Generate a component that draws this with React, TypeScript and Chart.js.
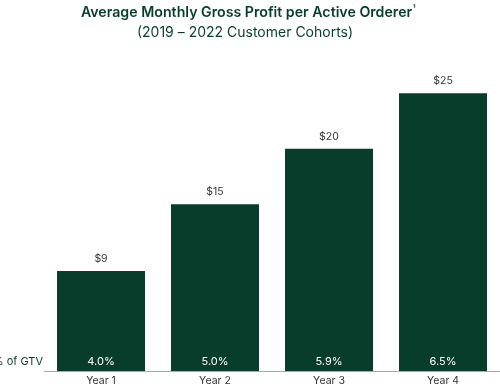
import React, { useEffect, useRef } from "react";
import { Chart, registerables } from "chart.js";

Chart.register(...registerables);

const categories = ["Year 1", "Year 2", "Year 3", "Year 4"];
const grossProfit = [9, 15, 20, 25];
const valueLabels = ["$9", "$15", "$20", "$25"];
const gtvLabels = ["4.0%", "5.0%", "5.9%", "6.5%"];
const title = "Average Monthly Gross Profit per Active Orderer";
const titleSup = "¹";
const subtitle = "(2019 – 2022 Customer Cohorts)";
const rowLabel = "% of GTV";

const GREEN = "#083d2b";
const FONT = "Inter, 'DejaVu Sans', sans-serif";

export default function App() {
  const ref = useRef<HTMLCanvasElement>(null);
  useEffect(() => {
    if (!ref.current) return;
    const labelsPlugin = {
      id: "labels",
      afterDraw(chart: any) {
        const ctx = chart.ctx;
        const meta = chart.getDatasetMeta(0);
        const area = chart.chartArea;
        ctx.save();
        // titles
        ctx.fillStyle = GREEN;
        ctx.textBaseline = "middle";
        ctx.font = `600 14.2px ${FONT}`;
        const tw = ctx.measureText(title).width;
        ctx.font = `600 9px ${FONT}`;
        const sw = ctx.measureText(titleSup).width;
        const tx = 248 - (tw + sw) / 2;
        ctx.textAlign = "left";
        ctx.font = `600 14.2px ${FONT}`;
        ctx.fillText(title, tx, 13);
        ctx.font = `600 9px ${FONT}`;
        ctx.fillText(titleSup, tx + tw + 0.5, 9);
        ctx.font = `400 14px ${FONT}`;
        ctx.textAlign = "center";
        ctx.fillText(subtitle, 245, 33);
        // value labels
        ctx.font = `400 10.5px ${FONT}`;
        ctx.fillStyle = "#333333";
        meta.data.forEach((bar: any, i: number) => {
          ctx.fillText(valueLabels[i], bar.x, bar.y - 12);
        });
        // gtv labels
        ctx.font = `400 11px ${FONT}`;
        ctx.fillStyle = "#ffffff";
        meta.data.forEach((bar: any, i: number) => {
          ctx.fillText(gtvLabels[i], bar.x, area.bottom - 9);
        });
        ctx.fillStyle = GREEN;
        ctx.textAlign = "right";
        ctx.fillText(rowLabel, 43, area.bottom - 9);
        ctx.restore();
      },
    };
    const chart = new Chart(ref.current, {
      type: "bar",
      data: {
        labels: categories,
        datasets: [
          {
            data: grossProfit,
            backgroundColor: GREEN,
            barPercentage: 0.772,
            categoryPercentage: 1,
          },
        ],
      },
      options: {
        animation: false,
        responsive: false,
        layout: { padding: { left: 44, right: 0, top: 71, bottom: 0 } },
        plugins: {
          legend: { display: false },
          tooltip: { enabled: false },
          title: { display: false },
        },
        scales: {
          x: {
            grid: { display: false, drawTicks: false },
            border: { display: true, color: "#aaaaaa", width: 1 },
            ticks: { color: "#333333", font: { family: FONT, size: 10.5 }, padding: 4 },
            afterFit: (scale: any) => {
              scale.height = 16;
            },
          },
          y: {
            display: false,
            min: 0,
            max: 27,
          },
        },
      },
      plugins: [labelsPlugin],
    });
    return () => chart.destroy();
  }, []);
  return (
    <div style={{ position: "fixed", left: 0, top: 0, width: 500, height: 387, background: "#fff" }}>
      <canvas ref={ref} width={500} height={387} style={{ width: 500, height: 387 }} />
    </div>
  );
}
